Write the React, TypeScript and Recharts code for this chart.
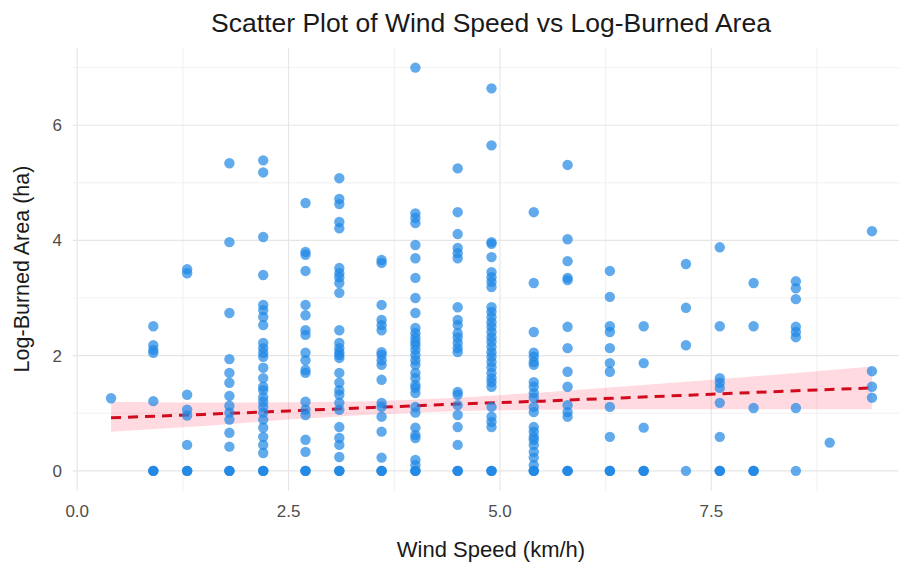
import React from 'react'
import {
  ComposedChart, Scatter, Area, Line, XAxis, YAxis, CartesianGrid,
} from 'recharts'

// wind speed levels (km/h) and log(area + 1) observed at each level
const windLevels = [0.4, 0.9, 1.3, 1.8, 2.2, 2.7, 3.1, 3.6, 4.0, 4.5, 4.9, 5.4, 5.8, 6.3, 6.7, 7.2, 7.6, 8.0, 8.5, 8.9, 9.4]

const logAreaByWind: number[][] = [
  [1.26],
  [2.51, 2.18, 2.1, 2.05, 1.21, 0, 0, 0],
  [3.5, 3.43, 1.32, 1.06, 0.96, 0.45, 0, 0, 0],
  [5.34, 3.97, 2.74, 1.94, 1.7, 1.53, 1.3, 1.13, 1.01, 0.89, 0.66, 0.42, 0, 0, 0],
  [5.39, 5.18, 4.06, 3.4, 2.88, 2.79, 2.67, 2.53, 2.22, 2.13, 2.05, 1.98, 1.79, 1.61, 1.46, 1.4, 1.28, 1.2, 1.11, 1.01, 0.89, 0.75, 0.59, 0.45, 0.31, 0, 0, 0],
  [4.65, 3.8, 3.75, 3.47, 2.88, 2.7, 2.44, 2.36, 2.05, 1.92, 1.75, 1.7, 1.2, 1.06, 0.97, 0.54, 0.33, 0, 0, 0],
  [5.08, 4.72, 4.63, 4.32, 4.21, 3.52, 3.43, 3.36, 3.26, 3.09, 2.44, 2.22, 2.13, 2.06, 2.01, 1.96, 1.7, 1.53, 1.4, 1.32, 1.18, 1.06, 0.76, 0.57, 0.45, 0.24, 0, 0, 0],
  [3.66, 3.61, 2.88, 2.62, 2.53, 2.44, 2.06, 2.01, 1.92, 1.84, 1.58, 1.18, 1.11, 0.94, 0.68, 0.23, 0, 0, 0],
  [7.0, 4.47, 4.39, 4.3, 3.92, 3.69, 3.35, 3.0, 2.74, 2.48, 2.39, 2.31, 2.24, 2.18, 2.1, 2.01, 1.92, 1.84, 1.7, 1.61, 1.49, 1.44, 1.35, 1.11, 1.01, 0.75, 0.62, 0.57, 0.19, 0.1, 0, 0, 0],
  [5.25, 4.49, 4.11, 3.87, 3.78, 3.69, 2.84, 2.62, 2.53, 2.39, 2.31, 2.22, 2.13, 2.06, 1.37, 1.32, 1.14, 0.97, 0.76, 0.45, 0, 0, 0],
  [6.64, 5.65, 3.97, 3.94, 3.71, 3.45, 3.36, 3.28, 3.19, 2.84, 2.76, 2.67, 2.58, 2.5, 2.41, 2.32, 2.24, 2.15, 2.06, 1.98, 1.89, 1.8, 1.7, 1.61, 1.54, 1.46, 1.11, 0.94, 0.85, 0.76, 0, 0, 0],
  [4.49, 3.26, 2.41, 2.05, 1.98, 1.89, 1.84, 1.54, 1.46, 1.35, 1.27, 1.11, 1.02, 0.76, 0.68, 0.59, 0.54, 0.45, 0.33, 0.23, 0.1, 0, 0, 0],
  [5.31, 4.02, 3.64, 3.35, 3.31, 2.5, 2.13, 1.72, 1.46, 1.14, 1.02, 0.94, 0, 0, 0],
  [3.47, 3.02, 2.51, 2.41, 2.13, 1.87, 1.72, 1.11, 0.59, 0, 0, 0],
  [2.51, 1.87, 0.75, 0, 0, 0],
  [3.59, 2.83, 2.18, 0],
  [3.88, 2.51, 1.61, 1.53, 1.44, 1.18, 0.59, 0, 0, 0],
  [3.26, 2.51, 1.09, 0, 0, 0],
  [3.29, 3.17, 2.98, 2.5, 2.41, 2.32, 1.09, 0],
  [0.49],
  [4.16, 1.73, 1.46, 1.27],
]

// linear fit with its confidence band
const fitX = [0.4, 1.5, 2.5, 3.5, 4.5, 5.5, 6.5, 7.5, 8.5, 9.4]
const fitY = [0.92, 0.98, 1.04, 1.1, 1.16, 1.21, 1.27, 1.33, 1.39, 1.44]
const bandLow = [0.68, 0.78, 0.89, 0.98, 1.04, 1.06, 1.07, 1.07, 1.07, 1.07]
const bandHigh = [1.2, 1.18, 1.19, 1.21, 1.27, 1.36, 1.47, 1.58, 1.7, 1.81]

const xTicks = [0, 2.5, 5, 7.5]
const xMinor = [1.25, 3.75, 6.25, 8.75]
const yTicks = [0, 2, 4, 6]
const yMinor = [1, 3, 5, 7]

const points = windLevels.flatMap((w, i) => logAreaByWind[i].map(v => ({ x: w, y: v })))
const smooth = fitX.map((x, i) => ({ x, fit: fitY[i], band: [bandLow[i], bandHigh[i]] }))

const FONT = '"Liberation Sans", Arial, sans-serif'
const W = 910
const H = 566

const Dot = (p: any) => (
  <circle cx={p.cx} cy={p.cy} r={5.2} fill="#1E88E5" fillOpacity={0.7} />
)

export default function App() {
  return (
    <div style={{ position: 'absolute', left: 0, top: 0, width: 899, height: H, overflow: 'hidden', background: '#fff' }}>
      <ComposedChart
        width={W}
        height={H}
        data={smooth}
        margin={{ top: 48, right: 0, bottom: 45, left: 0 }}
      >
        <CartesianGrid horizontalValues={yMinor} verticalValues={xMinor} stroke="#EEEEEE" strokeWidth={0.8} />
        <CartesianGrid horizontalValues={yTicks} verticalValues={xTicks} stroke="#E6E6E6" strokeWidth={1.1} />
        <XAxis
          type="number"
          dataKey="x"
          domain={[-0.05, 9.85]}
          ticks={xTicks}
          tickFormatter={(v: number) => v.toFixed(1)}
          axisLine={false}
          tickLine={false}
          tickSize={0}
          tickMargin={14}
          height={30}
          allowDataOverflow
          tick={{ fill: '#4D4D4D', fontSize: 17, fontFamily: FONT }}
        />
        <YAxis
          type="number"
          dataKey="y"
          domain={[-0.35, 7.34]}
          ticks={yTicks}
          axisLine={false}
          tickLine={false}
          tickSize={0}
          tickMargin={11}
          width={73}
          allowDataOverflow
          tick={{ fill: '#4D4D4D', fontSize: 17, fontFamily: FONT }}
        />
        <Scatter data={points} dataKey="y" shape={Dot} isAnimationActive={false} />
        <Area
          type="linear"
          dataKey="band"
          stroke="none"
          fill="#FF4D6A"
          fillOpacity={0.2}
          isAnimationActive={false}
        />
        <Line
          type="linear"
          dataKey="fit"
          stroke="#D10A1E"
          strokeWidth={3}
          strokeDasharray="10 7"
          dot={false}
          isAnimationActive={false}
        />
      </ComposedChart>
      <svg width={899} height={H} style={{ position: 'absolute', left: 0, top: 0, pointerEvents: 'none' }}>
        <text x={491} y={32} textAnchor="middle" fontSize={26.5} fontFamily={FONT} fill="#1a1a1a">
          Scatter Plot of Wind Speed vs Log-Burned Area
        </text>
        <text x={491} y={557} textAnchor="middle" fontSize={22} fontFamily={FONT} fill="#1a1a1a">
          Wind Speed (km/h)
        </text>
        <text x={29} y={269} textAnchor="middle" fontSize={21.5} fontFamily={FONT} fill="#1a1a1a" transform="rotate(-90 29 269)">
          Log-Burned Area (ha)
        </text>
      </svg>
    </div>
  )
}
